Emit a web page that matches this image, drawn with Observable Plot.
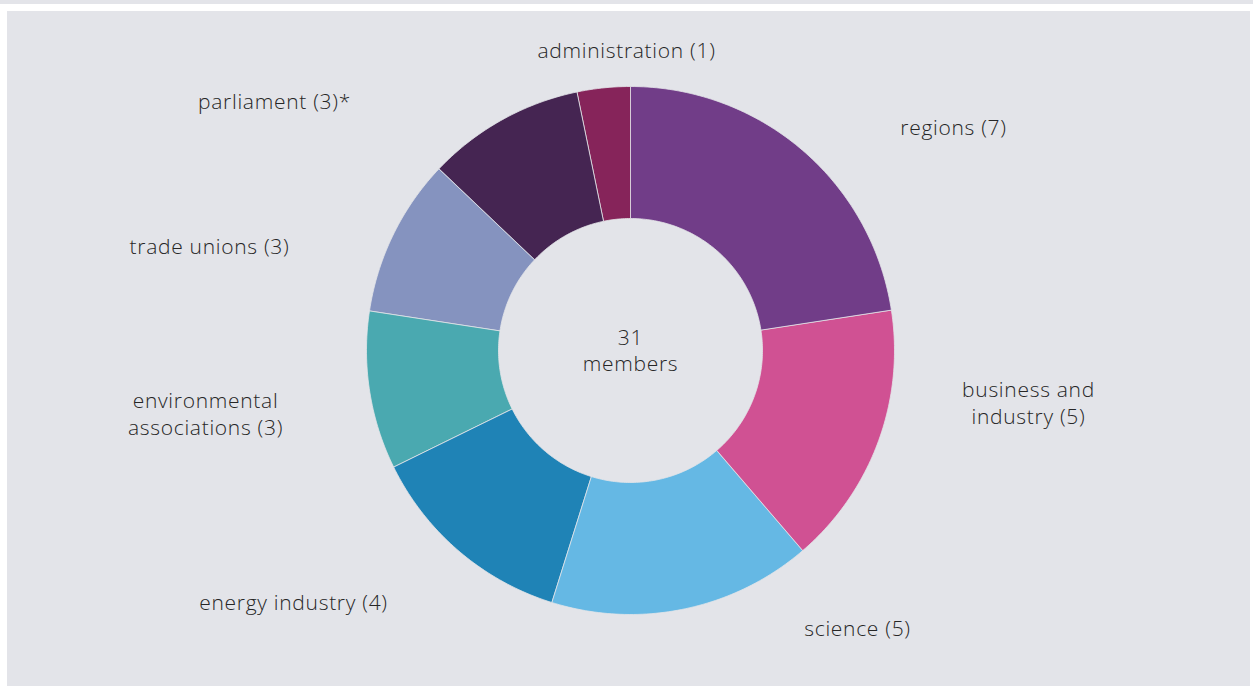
<!DOCTYPE html>
<html>
<head>
<meta charset="utf-8">
<script src="https://cdn.jsdelivr.net/npm/d3@7"></script>
<script src="https://cdn.jsdelivr.net/npm/@observablehq/plot@0.6"></script>
<style>
  html, body { margin: 0; padding: 0; background: #ffffff; width: 1253px; height: 686px; overflow: hidden; }
  #strip { position: absolute; left: 0; top: 0; width: 1253px; height: 4px; background: #e3e4e9; }
  #panel { position: absolute; left: 7px; top: 11px; width: 1243px; height: 675px; background: #e3e4e9; }
  #chart { position: absolute; left: 0; top: 0; }
  #chart svg { background: transparent; }
  #chart svg text { font-weight: 300; letter-spacing: 0.7px; }
</style>
</head>
<body>
<div id="strip"></div>
<div id="panel"></div>
<div id="chart"></div>
<script>
// ---- data ----
const categories = ["regions", "business and industry", "science", "energy industry",
  "environmental associations", "trade unions", "parliament", "administration"];
const members = [7, 5, 5, 4, 3, 3, 3, 1];
const labelLines = [
  ["regions (7)"],
  ["business and", "industry (5)"],
  ["science (5)"],
  ["energy industry (4)"],
  ["environmental", "associations (3)"],
  ["trade unions (3)"],
  ["parliament (3)*"],
  ["administration (1)"]
];
const colors = ["#713d88", "#d05193", "#65b8e4", "#1f83b6", "#4aa9b0", "#8593bf", "#452552", "#86245a"];
const centerLines = ["31", "members"];

// ---- layout (pixel offsets relative to donut centre) ----
const R = 264, r0 = 132;
const labelAnchor = [
  [323, -223], [398, 52], [227, 278], [-337, 252],
  [-425, 63], [-421, -104], [-356, -249], [-4, -300]
];

// build ring polygons from pie angles
const pie = d3.pie().sort(null).value(d => d)(members);
const polys = [];
pie.forEach((p, i) => {
  const n = Math.max(8, Math.ceil((p.endAngle - p.startAngle) * 60));
  const pts = [];
  for (let k = 0; k <= n; k++) {
    const a = p.startAngle + (p.endAngle - p.startAngle) * k / n;
    pts.push([R * Math.sin(a), -R * Math.cos(a)]);
  }
  for (let k = n; k >= 0; k--) {
    const a = p.startAngle + (p.endAngle - p.startAngle) * k / n;
    pts.push([r0 * Math.sin(a), -r0 * Math.cos(a)]);
  }
  pts.forEach(([x, y]) => polys.push({cat: categories[i], x, y}));
});

const labels = [];
labelLines.forEach((lines, i) => {
  const [lx, ly] = labelAnchor[i];
  const n = lines.length;
  lines.forEach((t, j) => labels.push({text: t, x: lx, y: ly + (j - (n - 1) / 2) * 27}));
});
const centre = centerLines.map((t, j) => ({text: t, x: 0, y: (j - 0.5) * 26}));

const chart = Plot.plot({
  width: 1253,
  height: 686,
  margin: 0,
  x: {domain: [-630, 623], range: [0, 1253], axis: null},
  y: {domain: [-350, 336], range: [0, 686], axis: null},
  color: {domain: categories, range: colors},
  style: {fontFamily: "'Open Sans', Lato, sans-serif", background: "transparent"},
  marks: [
    Plot.line(polys, {x: "x", y: "y", z: "cat", fill: "cat", stroke: "#e3e4e9", strokeWidth: 0.8, curve: "linear-closed"}),
    Plot.text(labels, {x: "x", y: "y", text: "text", fontSize: 21, fill: "#262626", textAnchor: "middle", dy: 1}),
    Plot.text(centre, {x: "x", y: "y", text: "text", fontSize: 21, fill: "#262626", textAnchor: "middle", dy: 1})
  ]
});
document.getElementById("chart").appendChild(chart);
</script>
</body>
</html>
